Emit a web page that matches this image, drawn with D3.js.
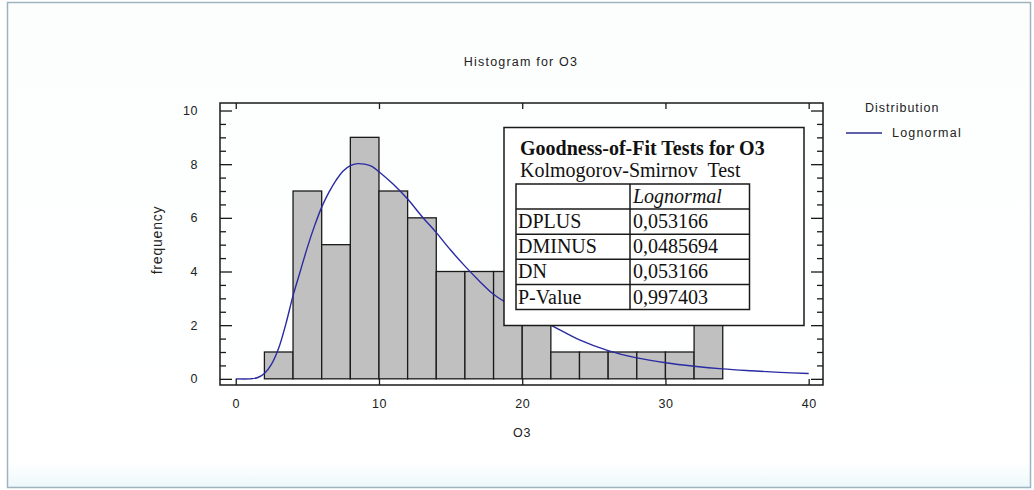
<!DOCTYPE html>
<html>
<head>
<meta charset="utf-8">
<script src="https://cdn.jsdelivr.net/npm/d3@7"></script>
<style>
  html, body { margin: 0; padding: 0; background: #ffffff; }
  svg { display: block; }
  text { font-family: "Liberation Sans", Arial, sans-serif; fill: #222; }
  .serif { font-family: "Liberation Serif", "Times New Roman", serif; fill: #111; }
</style>
</head>
<body>
<svg id="chart" width="1034" height="490"></svg>
<script>
// Histogram classes for O3 (lower and upper class limits) and their frequencies
const binLower = [2, 4, 6, 8, 10, 12, 14, 16, 18, 20, 22, 24, 26, 28, 30, 32];
const binUpper = [4, 6, 8, 10, 12, 14, 16, 18, 20, 22, 24, 26, 28, 30, 32, 34];
const frequency = [1, 7, 5, 9, 7, 6, 4, 4, 4, 4, 1, 1, 1, 1, 1, 2];

// Fitted lognormal curve, sampled points (O3 value, expected frequency)
const curveX = [0, 1, 1.5, 2, 2.5, 3, 3.5, 4, 4.5, 5, 5.5, 6, 6.5, 7, 7.5, 8, 8.5, 9, 9.5, 10,
                11, 12, 13, 14, 15, 16, 17, 18, 19, 20, 21, 22, 24, 26, 28, 30, 32, 34, 36, 38, 40];
const curveY = [0, 0, 0.04, 0.2, 0.55, 1.15, 2.05, 3.1, 4.0, 4.9, 5.7, 6.4, 6.95, 7.4, 7.75, 7.95, 8.02, 8.0, 7.92, 7.72,
                7.25, 6.7, 6.05, 5.45, 4.8, 4.2, 3.65, 3.15, 2.8, 2.5, 2.25, 2.0, 1.45, 1.05, 0.78, 0.6, 0.47, 0.37, 0.3, 0.24, 0.2];

// Axis ticks
const xTicks = [0, 10, 20, 30, 40];
const yMajorTicks = [0, 2, 4, 6, 8, 10];
const yMinorTicks = [0.5, 1, 1.5, 2.5, 3, 3.5, 4.5, 5, 5.5, 6.5, 7, 7.5, 8.5, 9, 9.5];

// Goodness-of-fit table
const gofTitle = "Goodness-of-Fit Tests for O3";
const gofSubtitle = "Kolmogorov-Smirnov  Test";
const gofColumn = "Lognormal";
const gofStats = ["DPLUS", "DMINUS", "DN", "P-Value"];
const gofValues = ["0,053166", "0,0485694", "0,053166", "0,997403"];

const svg = d3.select("#chart");

// Background panel with a soft border
const defs = svg.append("defs");
const grad = defs.append("linearGradient").attr("id", "panelGrad")
  .attr("x1", 0).attr("y1", 0).attr("x2", 0).attr("y2", 1);
grad.append("stop").attr("offset", "0%").attr("stop-color", "#fcfefe");
grad.append("stop").attr("offset", "95%").attr("stop-color", "#ffffff");
grad.append("stop").attr("offset", "100%").attr("stop-color", "#ecf7fa");
svg.append("rect").attr("x", 7.5).attr("y", 2.5).attr("width", 1023).attr("height", 485)
  .attr("fill", "url(#panelGrad)").attr("stroke", "#9fb3bf").attr("stroke-width", 1.5);

// Plot frame
const frame = { left: 220, right: 823, top: 103, bottom: 385 };
const x = d3.scaleLinear().domain([-1.1, 41]).range([frame.left, frame.right]);
const y = d3.scaleLinear().domain([-0.23, 10.28]).range([frame.bottom, frame.top]);

// Bars
const bins = frequency.map((f, i) => ({ x0: binLower[i], x1: binUpper[i], f }));
svg.append("g").selectAll("rect").data(bins).join("rect")
  .attr("x", d => x(d.x0))
  .attr("y", d => y(d.f))
  .attr("width", d => x(d.x1) - x(d.x0))
  .attr("height", d => y(0) - y(d.f))
  .attr("fill", "#c0c0c0")
  .attr("stroke", "#1a1a1a")
  .attr("stroke-width", 1.3);

// Lognormal curve
const line = d3.line()
  .x(d => x(d[0]))
  .y(d => y(d[1]))
  .curve(d3.curveCatmullRom.alpha(0.5));
svg.append("path")
  .datum(curveX.map((v, i) => [v, curveY[i]]))
  .attr("d", line)
  .attr("fill", "none")
  .attr("stroke", "#2a2aa2")
  .attr("stroke-width", 1.4);

// Frame and axes
const axisG = svg.append("g");
axisG.append("rect")
  .attr("x", frame.left).attr("y", frame.top)
  .attr("width", frame.right - frame.left).attr("height", frame.bottom - frame.top)
  .attr("fill", "none").attr("stroke", "#1a1a1a").attr("stroke-width", 1.5);

const bottomAxis = d3.axisBottom(x).tickValues(xTicks).tickSize(-6).tickPadding(14);
axisG.append("g").attr("transform", `translate(0,${frame.bottom})`).call(bottomAxis)
  .call(g => g.select(".domain").remove())
  .call(g => g.selectAll("line").attr("stroke", "#1a1a1a").attr("stroke-width", 1.3))
  .call(g => g.selectAll("text").attr("font-size", 12.5).attr("letter-spacing", 0.6)
    .attr("fill", "#222").style("font-family", '"Liberation Sans", Arial, sans-serif'));

const topAxis = d3.axisTop(x).tickValues(xTicks).tickSize(-6).tickFormat("");
axisG.append("g").attr("transform", `translate(0,${frame.top})`).call(topAxis)
  .call(g => g.select(".domain").remove())
  .call(g => g.selectAll("line").attr("stroke", "#1a1a1a").attr("stroke-width", 1.3));

const leftAxis = d3.axisLeft(y).tickValues(yMajorTicks).tickSize(-12).tickPadding(22);
axisG.append("g").attr("transform", `translate(${frame.left},0)`).call(leftAxis)
  .call(g => g.select(".domain").remove())
  .call(g => g.selectAll("line").attr("stroke", "#1a1a1a").attr("stroke-width", 1.3))
  .call(g => g.selectAll("text").attr("font-size", 12.5).attr("letter-spacing", 0.6)
    .attr("fill", "#222").style("font-family", '"Liberation Sans", Arial, sans-serif'));
axisG.append("g").attr("transform", `translate(${frame.left},0)`)
  .call(d3.axisLeft(y).tickValues(yMinorTicks).tickSize(-6).tickFormat(""))
  .call(g => g.select(".domain").remove())
  .call(g => g.selectAll("line").attr("stroke", "#1a1a1a").attr("stroke-width", 1.3));

axisG.append("g").attr("transform", `translate(${frame.right},0)`)
  .call(d3.axisRight(y).tickValues(yMajorTicks).tickSize(-12).tickFormat(""))
  .call(g => g.select(".domain").remove())
  .call(g => g.selectAll("line").attr("stroke", "#1a1a1a").attr("stroke-width", 1.3));
axisG.append("g").attr("transform", `translate(${frame.right},0)`)
  .call(d3.axisRight(y).tickValues(yMinorTicks).tickSize(-6).tickFormat(""))
  .call(g => g.select(".domain").remove())
  .call(g => g.selectAll("line").attr("stroke", "#1a1a1a").attr("stroke-width", 1.3));

// Titles
svg.append("text").attr("x", 521).attr("y", 66).attr("text-anchor", "middle")
  .attr("font-size", 12.5).attr("letter-spacing", 1.2).text("Histogram for O3");
svg.append("text").attr("x", 522).attr("y", 437).attr("text-anchor", "middle")
  .attr("font-size", 12.5).attr("letter-spacing", 0.6).text("O3");
svg.append("text").attr("transform", "translate(162,240) rotate(-90)")
  .attr("text-anchor", "middle").attr("font-size", 14).attr("letter-spacing", 0.8)
  .text("frequency");

// Legend
svg.append("text").attr("x", 865).attr("y", 112).attr("font-size", 12.5)
  .attr("letter-spacing", 1).text("Distribution");
svg.append("line").attr("x1", 846).attr("x2", 882).attr("y1", 133).attr("y2", 133)
  .attr("stroke", "#2b2b8c").attr("stroke-width", 1.5);
svg.append("text").attr("x", 892).attr("y", 137).attr("font-size", 12.5)
  .attr("letter-spacing", 1.2).text("Lognormal");

// Goodness-of-fit table box
const box = svg.append("g");
box.append("rect").attr("x", 504).attr("y", 127.5).attr("width", 300).attr("height", 198)
  .attr("fill", "#ffffff").attr("stroke", "#1a1a1a").attr("stroke-width", 1.5);
box.append("text").attr("class", "serif").attr("x", 520).attr("y", 155)
  .attr("font-size", 20).attr("font-weight", "bold").text(gofTitle);
box.append("text").attr("class", "serif").attr("x", 520).attr("y", 177)
  .attr("font-size", 20).style("white-space", "pre").text(gofSubtitle);

const tbl = { left: 516, mid: 630, right: 749.5, top: 184, rowH: 25.1 };
const nRows = gofStats.length + 1;
box.append("rect").attr("x", tbl.left).attr("y", tbl.top)
  .attr("width", tbl.right - tbl.left).attr("height", nRows * tbl.rowH)
  .attr("fill", "none").attr("stroke", "#1a1a1a").attr("stroke-width", 1.5);
box.append("line").attr("x1", tbl.mid).attr("x2", tbl.mid)
  .attr("y1", tbl.top).attr("y2", tbl.top + nRows * tbl.rowH)
  .attr("stroke", "#1a1a1a").attr("stroke-width", 1.5);
box.selectAll("line.row").data(d3.range(1, nRows)).join("line").attr("class", "row")
  .attr("x1", tbl.left).attr("x2", tbl.right)
  .attr("y1", d => tbl.top + d * tbl.rowH).attr("y2", d => tbl.top + d * tbl.rowH)
  .attr("stroke", "#1a1a1a").attr("stroke-width", 1.5);

box.append("text").attr("class", "serif").attr("x", tbl.mid + 3).attr("y", tbl.top + tbl.rowH - 6)
  .attr("font-size", 20).attr("font-style", "italic").text(gofColumn);
box.selectAll("text.stat").data(gofStats).join("text").attr("class", "serif stat")
  .attr("x", tbl.left + 2).attr("y", (d, i) => tbl.top + (i + 2) * tbl.rowH - 6)
  .attr("font-size", 20).text(d => d);
box.selectAll("text.val").data(gofValues).join("text").attr("class", "serif val")
  .attr("x", tbl.mid + 3).attr("y", (d, i) => tbl.top + (i + 2) * tbl.rowH - 6)
  .attr("font-size", 20).text(d => d);
</script>
</body>
</html>
